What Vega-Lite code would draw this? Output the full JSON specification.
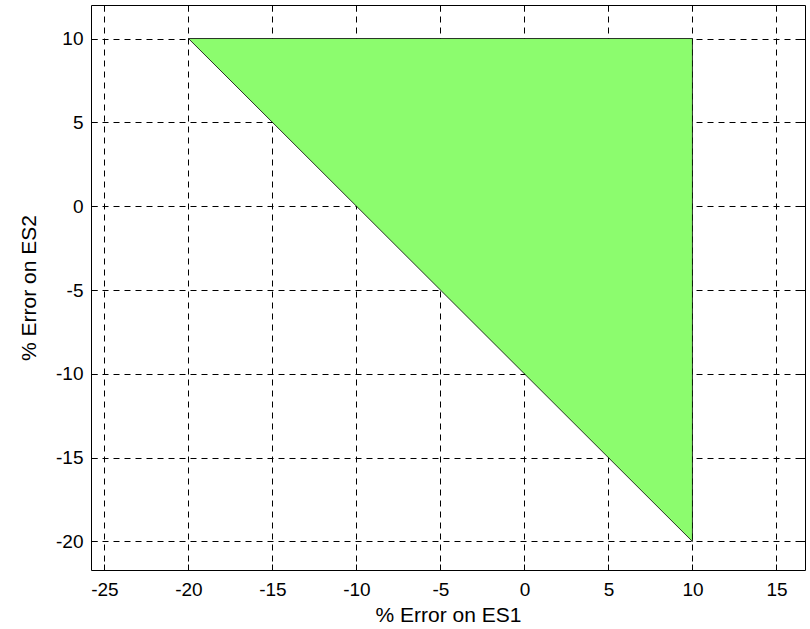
{
  "$schema": "https://vega.github.io/schema/vega-lite/v6.json",
  "width": 714,
  "height": 565,
  "autosize": "none",
  "padding": {"left": 91, "top": 5, "right": 5, "bottom": 59},
  "background": "white",
  "config": {
    "view": {"stroke": "black", "strokeWidth": 1},
    "axis": {
      "labelFont": "Liberation Sans",
      "titleFont": "Liberation Sans",
      "labelFontSize": 19,
      "titleFontSize": 21,
      "titleFontWeight": "normal",
      "labelColor": "black",
      "titleColor": "black",
      "domainColor": "black",
      "tickColor": "black",
      "gridColor": "black",
      "gridDash": [6, 5],
      "gridOpacity": 1,
      "gridWidth": 1,
      "zindex": 1
    }
  },
  "data": {
    "values": [
      {"x": -20, "y": 10, "y2": 10},
      {"x": 10, "y": -20, "y2": 10}
    ]
  },
  "layer": [
    {
      "mark": {"type": "area", "color": "#8cfc6e", "stroke": "black", "strokeWidth": 0.8, "opacity": 1},
      "encoding": {
        "x": {
          "field": "x", "type": "quantitative",
          "scale": {"domain": [-25.8, 16.7], "nice": false, "zero": false},
          "axis": {"values": [-25, -20, -15, -10, -5, 0, 5, 10, 15], "labelExpr": "'' + datum.value", "title": "% Error on ES1", "tickSize": -6, "labelPadding": 16, "titlePadding": 5, "grid": true, "domain": false}
        },
        "y": {
          "field": "y", "type": "quantitative",
          "scale": {"domain": [-21.7, 12], "nice": false, "zero": false},
          "axis": {"values": [-20, -15, -10, -5, 0, 5, 10], "labelExpr": "'' + datum.value", "title": "% Error on ES2", "tickSize": -6, "labelPadding": 14, "titlePadding": 16, "grid": true, "domain": false}
        },
        "y2": {"field": "y2"}
      }
    },
    {
      "mark": {"type": "point", "opacity": 0},
      "encoding": {
        "x": {
          "field": "x", "type": "quantitative",
          "scale": {"domain": [-25.8, 16.7], "nice": false, "zero": false},
          "axis": {"orient": "top", "values": [-25, -20, -15, -10, -5, 0, 5, 10, 15], "title": null, "labels": false, "tickSize": -6, "grid": false, "domain": false}
        },
        "y": {
          "field": "y", "type": "quantitative",
          "scale": {"domain": [-21.7, 12], "nice": false, "zero": false},
          "axis": {"orient": "right", "values": [-20, -15, -10, -5, 0, 5, 10], "title": null, "labels": false, "tickSize": -6, "grid": false, "domain": false}
        }
      }
    }
  ],
  "resolve": {"axis": {"x": "independent", "y": "independent"}}
}
